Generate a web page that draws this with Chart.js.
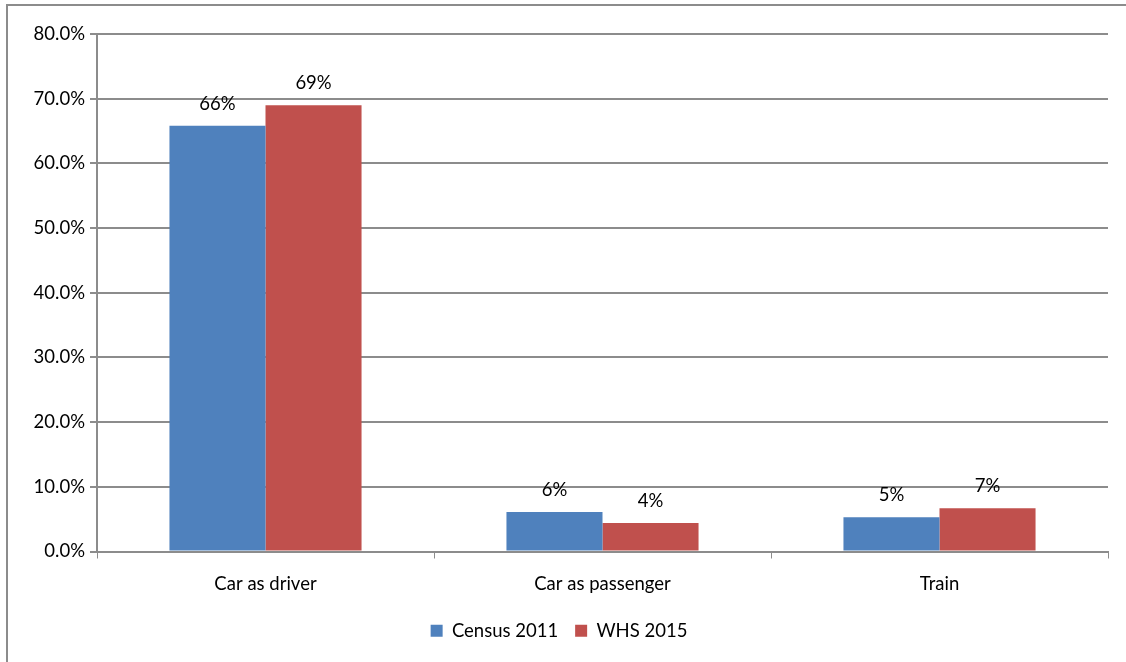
<!DOCTYPE html>
<html>
<head>
<meta charset="utf-8">
<script src="https://cdn.jsdelivr.net/npm/chart.js@4.4.0/dist/chart.umd.min.js"></script>
<style>
  html, body { margin: 0; padding: 0; background: #fff; }
  #wrap { width: 1126px; height: 662px; position: relative; }
</style>
</head>
<body>
<div id="wrap"><canvas id="chart"></canvas></div>
<script>
// data
const categories = ["Car as driver", "Car as passenger", "Train"];
const census2011 = [65.8, 6.1, 5.3];
const whs2015 = [69.0, 4.4, 6.7];
const seriesNames = ["Census 2011", "WHS 2015"];

const gridColor = "#8c8c8c";
const font = { family: "Lato", size: 18.5 };

// outer frame of the chart (only top and left edge visible)
const framePlugin = {
  id: "frame",
  beforeDraw: (chart) => {
    const { ctx } = chart;
    ctx.save();
    ctx.fillStyle = "white";
    ctx.fillRect(0, 0, chart.width, chart.height);
    ctx.strokeStyle = gridColor;
    ctx.lineWidth = 2;
    ctx.beginPath();
    ctx.moveTo(7, chart.height);
    ctx.lineTo(7, 5);
    ctx.lineTo(chart.width, 5);
    ctx.stroke();
    ctx.restore();
  },
};

// value labels above each bar
const labelPlugin = {
  id: "barLabels",
  afterDatasetsDraw: (chart) => {
    const { ctx } = chart;
    ctx.save();
    ctx.fillStyle = "#000";
    ctx.font = font.size + "px " + font.family;
    ctx.textAlign = "center";
    ctx.textBaseline = "alphabetic";
    chart.data.datasets.forEach((ds, i) => {
      chart.getDatasetMeta(i).data.forEach((bar, j) => {
        ctx.fillText(Math.round(ds.data[j]) + "%", bar.x, bar.y - 16);
      });
    });
    ctx.restore();
  },
};

const ctx = document.getElementById("chart");
new Chart(ctx, {
  type: "bar",
  data: {
    labels: categories,
    datasets: [
      {
        label: seriesNames[0],
        data: census2011,
        backgroundColor: "#4f81bd",
        borderWidth: 0,
        categoryPercentage: 0.57,
        barPercentage: 1.0,
      },
      {
        label: seriesNames[1],
        data: whs2015,
        backgroundColor: "#c0504d",
        borderWidth: 0,
        categoryPercentage: 0.57,
        barPercentage: 1.0,
      },
    ],
  },
  options: {
    responsive: true,
    maintainAspectRatio: false,
    animation: false,
    devicePixelRatio: 1,
    layout: {
      padding: { left: 10, top: 34, right: 18, bottom: 12 },
    },
    scales: {
      x: {
        afterFit: (scale) => { scale.height = 53; },
        grid: {
          offset: true,
          drawOnChartArea: false,
          color: gridColor,
          tickLength: 7,
        },
        border: { color: gridColor, width: 2 },
        ticks: {
          color: "#000",
          font: font,
          padding: 14,
        },
      },
      y: {
        min: 0,
        max: 80,
        afterFit: (scale) => { scale.width = 87; },
        grid: {
          color: gridColor,
          lineWidth: 2,
          tickLength: 7,
        },
        border: { color: gridColor, width: 2 },
        ticks: {
          stepSize: 10,
          color: "#000",
          font: font,
          padding: 5,
          callback: (v) => v.toFixed(1) + "%",
        },
      },
    },
    plugins: {
      legend: {
        position: "bottom",
        labels: {
          color: "#000",
          font: font,
          boxWidth: 12,
          boxHeight: 12,
          padding: 17,
        },
      },
      tooltip: { enabled: false },
    },
  },
  plugins: [framePlugin, labelPlugin],
});
</script>
</body>
</html>
